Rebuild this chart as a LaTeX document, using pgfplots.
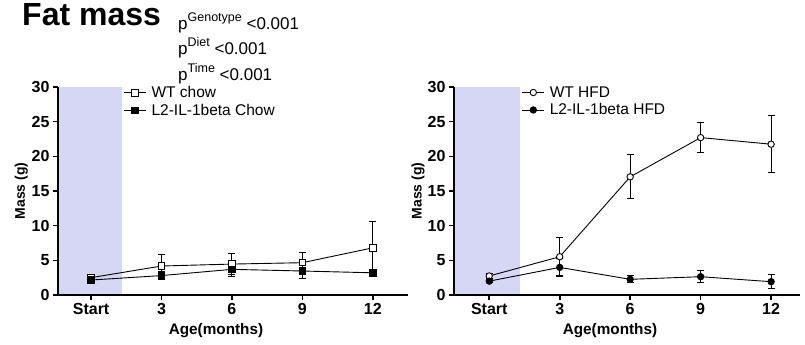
\documentclass[border=0pt]{standalone}
\usepackage{pgfplots}
\pgfplotsset{compat=1.18}
\usepackage{fontspec}
\setmainfont{Liberation Sans}
\definecolor{shadecol}{rgb}{0.84,0.84,0.96}
\pgfplotsset{
  fatstyle/.style={
    scale only axis,
    height=208pt,
    axis lines=left,
    axis line style={line width=1.8pt,-},
    axis on top,
    ymin=0, ymax=30, ytick={0,5,...,30},
    xtick={0,1,2,3,4}, xticklabels={Start,3,6,9,12},
    tick style={line width=1.6pt,black},
    major tick length=5pt,
    tick align=outside,
    tick label style={font=\fontsize{16}{18}\selectfont\bfseries},
    /pgf/number format/assume math mode=true,
    xlabel={Age(months)}, ylabel={Mass (g)},
    xlabel style={font=\fontsize{15.3}{17}\selectfont\bfseries, at={(axis description cs:0.5,0)}, anchor=center, yshift=-36pt, xshift=-17pt},
    ylabel style={font=\fontsize{14}{16}\selectfont\bfseries},
    legend style={draw=none, fill=none, font=\fontsize{15.5}{17}\selectfont, anchor=north west, inner sep=0pt, row sep=1pt,
      /tikz/every odd column/.style={column sep=3pt}},
    legend cell align=left,
    legend image code/.code={\draw[mark repeat=2,mark phase=2] plot coordinates {(0pt,0pt) (11pt,0pt) (22pt,0pt)};},
  },
  ser/.style={black, line width=0.9pt, mark size=3.2pt,
    error bars/y dir=both, error bars/y explicit,
    error bars/error bar style={line width=0.9pt, black, solid},
    error bars/error mark options={rotate=90, mark size=3.5pt, line width=0.9pt, black}},
}
\begin{document}
\begin{tikzpicture}[x=1pt,y=1pt]
\useasboundingbox (0,0) rectangle (805,345);
\node[anchor=base west, font=\fontsize{32}{34}\selectfont\bfseries, inner sep=0pt] at (22,319) {Fat mass};
\node[anchor=base west, font=\fontsize{17}{19}\selectfont, inner sep=0pt] at (178,315) {p\raisebox{8pt}{\fontsize{12.5}{13}\selectfont Genotype} {<}0.001};
\node[anchor=base west, font=\fontsize{17}{19}\selectfont, inner sep=0pt] at (178,290) {p\raisebox{8pt}{\fontsize{12.5}{13}\selectfont Diet} {<}0.001};
\node[anchor=base west, font=\fontsize{17}{19}\selectfont, inner sep=0pt] at (178,264) {p\raisebox{8pt}{\fontsize{12.5}{13}\selectfont Time} {<}0.001};

\begin{axis}[fatstyle, at={(58pt,50pt)}, anchor=south west, width=350pt,
  xmin=-0.47, xmax=4.5,
  ylabel style={at={(axis description cs:-0.105,0.5)}, anchor=center},
  legend style={at={(axis cs:0.46,30.4)}}]
\fill[shadecol] (axis cs:-0.47,0) rectangle (axis cs:0.44,30);
\addplot[ser, mark=square*, mark options={fill=white, line width=0.9pt, solid}] table[x=x,y=y,y error=e] {
x y e
0 2.5 0.3
1 4.18 1.68
2 4.46 1.54
3 4.66 1.45
4 6.8 3.8
};
\addlegendentry{WT chow}
\addplot[ser, mark=square*, mark options={fill=black, line width=0.9pt, solid}] table[x=x,y=y,y error=e] {
x y e
0 2.16 0.2
1 2.8 0.6
2 3.7 1.06
3 3.46 1.06
4 3.2 0.3
};
\addlegendentry{L2-IL-1beta Chow}
\end{axis}

\begin{axis}[fatstyle, at={(454pt,50pt)}, anchor=south west, width=346pt,
  xmin=-0.5, xmax=4.41,
  ylabel style={at={(axis description cs:-0.104,0.5)}, anchor=center},
  legend style={at={(axis cs:0.46,30.4)}}]
\fill[shadecol] (axis cs:-0.5,0) rectangle (axis cs:0.43,30);
\addplot[ser, mark=*, mark options={fill=white, line width=0.9pt, solid}] table[x=x,y=y,y error=e] {
x y e
0 2.74 0.3
1 5.52 2.74
2 17.04 3.17
3 22.7 2.2
4 21.75 4.1
};
\addlegendentry{WT HFD}
\addplot[ser, mark=*, mark options={fill=black, line width=0.9pt, solid}] table[x=x,y=y,y error=e] {
x y e
0 2.0 0.2
1 3.98 1.3
2 2.26 0.5
3 2.64 0.87
4 1.92 1.0
};
\addlegendentry{L2-IL-1beta HFD}
\end{axis}
\end{tikzpicture}
\end{document}
